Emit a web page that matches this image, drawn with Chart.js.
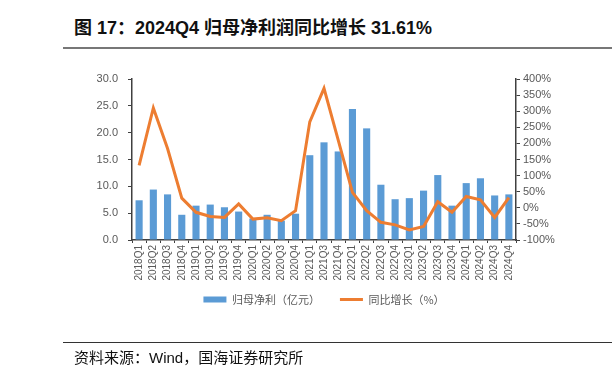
<!DOCTYPE html>
<html lang="zh">
<head>
  <meta charset="UTF-8">
  <title>2024Q4 归母净利润同比增长 31.61%</title>
  <style>
    body {
      margin: 0;
      width: 612px;
      height: 378px;
      background: #fff;
      position: relative;
      overflow: hidden;
      font-family: "Liberation Sans", "Noto Sans CJK SC", sans-serif;
    }
    #title {
      position: absolute;
      left: 74px;
      top: 13px;
      font-size: 18px;
      font-weight: bold;
      color: #111;
      white-space: nowrap;
    }
    #topline {
      position: absolute;
      left: 63px;
      right: 0;
      top: 47px;
      border-top: 2px solid #777;
    }
    #bottomline {
      position: absolute;
      left: 63px;
      right: 0;
      top: 342px;
      border-top: 1.5px solid #333;
    }
    #source {
      position: absolute;
      left: 74px;
      top: 346px;
      font-size: 15px;
      color: #111;
      white-space: nowrap;
    }
    #wrap {
      position: absolute;
      left: 0;
      top: 0;
      width: 612px;
      height: 378px;
    }
  </style>
</head>
<body>

  <div id="title">图 17：2024Q4 归母净利润同比增长 31.61%</div>
  <div id="topline"></div>
  <div id="wrap"><canvas id="chartCanvas" width="612" height="378"></canvas></div>
  <div id="bottomline"></div>
  <div id="source">资料来源：Wind，国海证券研究所</div>

  <script src="https://cdn.jsdelivr.net/npm/chart.js"></script>

  <script>
    // 季度（原图缺 2021Q2）
    const quarters = [
      '2018Q1', '2018Q2', '2018Q3', '2018Q4',
      '2019Q1', '2019Q2', '2019Q3', '2019Q4',
      '2020Q1', '2020Q2', '2020Q3', '2020Q4',
      '2021Q1', '2021Q3', '2021Q4',
      '2022Q1', '2022Q2', '2022Q3', '2022Q4',
      '2023Q1', '2023Q2', '2023Q3', '2023Q4',
      '2024Q1', '2024Q2', '2024Q3', '2024Q4'
    ];
    // 归母净利（亿元）
    const netProfit = [
      7.4, 9.4, 8.5, 4.7,
      6.4, 6.6, 6.1, 5.3,
      4.0, 4.7, 3.6, 4.9,
      15.8, 18.2, 16.5,
      24.4, 20.8, 10.3, 7.6,
      7.8, 9.2, 12.1, 6.4,
      10.6, 11.5, 8.3, 8.5
    ];
    // 同比增长（%）
    const yoyGrowth = [
      132, 310, 184, 30,
      -14, -27, -30, 12,
      -35, -31, -40, -9,
      267, 371, 210,
      48, -9, -45, -53,
      -69, -58, 19, -14,
      35, 25, -30, 31.61
    ];

    const axisColor = '#404040';
    const textColor = '#595959';

    // 图例上移，贴近横轴标签
    const legendShift = {
      id: 'legendShift',
      afterLayout(chart) {
        if (chart.legend) {
          chart.legend.top -= 10;
          chart.legend.bottom -= 10;
        }
      }
    };

    const ctx = document.getElementById('chartCanvas').getContext('2d');
    const chart = new Chart(ctx, {
      type: 'bar',
      data: {
        labels: quarters,
        datasets: [
          {
            type: 'line',
            label: '同比增长（%）',
            data: yoyGrowth,
            yAxisID: 'y1',
            borderColor: '#ED7D31',
            backgroundColor: '#ED7D31',
            borderWidth: 3,
            pointRadius: 0,
            pointStyle: 'line',
            tension: 0,
            order: 0
          },
          {
            label: '归母净利（亿元）',
            data: netProfit,
            yAxisID: 'y',
            backgroundColor: '#5B9BD5',
            borderWidth: 0,
            pointStyle: 'rect',
            barPercentage: 0.5,
            categoryPercentage: 1.0,
            order: 1
          }
        ]
      },
      plugins: [legendShift],
      options: {
        responsive: false,
        animation: false,
        layout: {
          padding: { left: 76, right: 40, top: 79, bottom: 53 }
        },
        plugins: {
          tooltip: { enabled: false },
          legend: {
            position: 'bottom',
            reverse: true,
            labels: {
              usePointStyle: true,
              pointStyleWidth: 23,
              boxHeight: 6,
              padding: 20,
              color: textColor,
              font: { family: '"Noto Sans CJK SC", sans-serif', size: 11 }
            }
          }
        },
        scales: {
          x: {
            grid: { drawOnChartArea: false, tickLength: 3, color: axisColor },
            border: { color: axisColor, width: 1.5 },
            ticks: {
              minRotation: 90,
              maxRotation: 90,
              autoSkip: false,
              padding: 2,
              color: textColor,
              font: { family: '"Liberation Sans", sans-serif', size: 10 }
            },
            afterFit: function (scale) { scale.height = 44; }
          },
          y: {
            position: 'left',
            min: 0,
            max: 30,
            ticks: {
              stepSize: 5,
              autoSkip: false,
              padding: 10,
              color: textColor,
              font: { family: '"Liberation Sans", sans-serif', size: 11 },
              callback: v => v.toFixed(1)
            },
            grid: { drawOnChartArea: false, tickLength: 4, color: axisColor },
            border: { color: axisColor, width: 1.5 },
            afterFit: function (scale) { scale.width = 56; }
          },
          y1: {
            position: 'right',
            min: -100,
            max: 400,
            ticks: {
              stepSize: 50,
              autoSkip: false,
              padding: 3,
              color: textColor,
              font: { family: '"Liberation Sans", sans-serif', size: 11 },
              callback: v => v + '%'
            },
            grid: { drawOnChartArea: false, tickLength: 4, color: axisColor },
            border: { color: axisColor, width: 1.5 },
            afterFit: function (scale) { scale.width = 56; }
          }
        }
      }
    });
  </script>

</body>
</html>
